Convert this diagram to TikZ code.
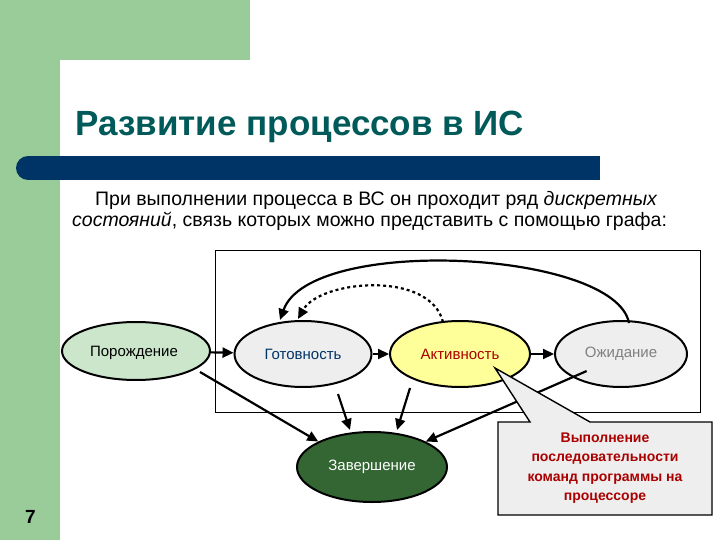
\documentclass[tikz,border=0pt]{standalone}
\usepackage{fontspec}
\setmainfont{Liberation Sans}
\usetikzlibrary{arrows.meta,shapes.geometric}
\definecolor{grn}{RGB}{153,204,153}
\definecolor{navy}{RGB}{0,51,102}
\definecolor{teal2}{RGB}{0,90,90}
\definecolor{dkgrn}{RGB}{51,102,51}
\definecolor{ltg}{RGB}{238,238,238}
\definecolor{yel}{RGB}{255,255,153}
\definecolor{red2}{RGB}{170,0,0}
\begin{document}
\begin{tikzpicture}[x=1pt,y=-1pt,
  st/.style={ellipse,draw,line width=2pt,minimum width=137pt,minimum height=66pt,font=\fontsize{15}{17}\selectfont},
  ar/.style={-{Triangle[length=11pt,width=10pt]},line width=2.2pt}]
\useasboundingbox (0,0) rectangle (720,540);
\fill[white] (0,0) rectangle (720,540);
\fill[grn] (0,0) rectangle (250,60);
\fill[grn] (0,0) rectangle (60,540);
\fill[white] (60,540) -- (60,100) arc[start angle=180,end angle=90,radius=40] -- (250,60) -- (720,60) -- (720,540) -- cycle;
\fill[navy] (28,156) rectangle (600,180);
\fill[navy] (28,168) circle (12);
\node[anchor=west,font=\fontsize{35}{40}\selectfont\bfseries,text=teal2] (title) at (72,127) {Развитие процессов в ИС};
\node[anchor=west,font=\fontsize{19.5}{22}\selectfont,inner sep=0] (t1) at (95,200) {При выполнении процесса в ВС он проходит ряд \textit{дискретных}};
\node[anchor=west,font=\fontsize{19.5}{22}\selectfont,inner sep=0] (t2) at (72,221) {\textit{состояний}, связь которых можно представить с помощью графа:};
\node[anchor=west,font=\fontsize{19}{22}\selectfont\bfseries,inner sep=0] (num) at (25,517) {7};
\draw[line width=1pt] (215,250) rectangle (700,412);
\node[st,fill=grn!50,minimum width=148pt,minimum height=58pt] (por) at (136,351) {};
\node[font=\fontsize{15}{17}\selectfont] (port) at (134,353) {Порождение};
\node[st,fill=ltg,text=navy] (got) at (303,354) {Готовность};
\node[st,fill=yel,text=red2,minimum width=140pt] (akt) at (460,354) {Активность};
\node[st,fill=ltg,text=gray,minimum width=132pt] (ozh) at (621,354) {Ожидание};
\node[st,fill=dkgrn,text=white,minimum width=150pt,minimum height=70pt] (zav) at (372,467) {Завершение};
\draw[ar] (por) -- (got);
\draw[ar] (got) -- (akt);
\draw[ar] (akt) -- (ozh);
\coordinate (p1) at (200,372);
\draw[ar] (p1) -- (zav.north west);
\draw[ar] (got.south) ++(35,6) coordinate (g1) (g1) -- (350,430);
\draw[ar] (akt.south) ++(-50,0) coordinate (a1) (a1) -- (397,430);
\draw[ar] (ozh.south west) ++(13,-7) coordinate (o1) (o1) -- (zav.north east);
\draw[ar] (ozh.north) ++(8,3) coordinate (o2) (o2) .. controls (615,250) and (310,235) .. (280,320);
\draw[ar,dashed] (akt.north) ++(-17,2) coordinate (a2) (a2) .. controls (430,270) and (320,280) .. (298,319);
\coordinate (tip) at (495,368);
\draw[line width=1.4pt,fill=ltg] (498,422) -- (530,422) -- (tip) -- (590,422) -- (712,422) -- (712,515) -- (498,515) -- cycle;
\node[align=center,text=red2,font=\fontsize{14}{19.5}\selectfont\bfseries] (call) at (605,468) {Выполнение\\последовательности\\команд программы на\\процессоре};
\end{tikzpicture}
\end{document}
